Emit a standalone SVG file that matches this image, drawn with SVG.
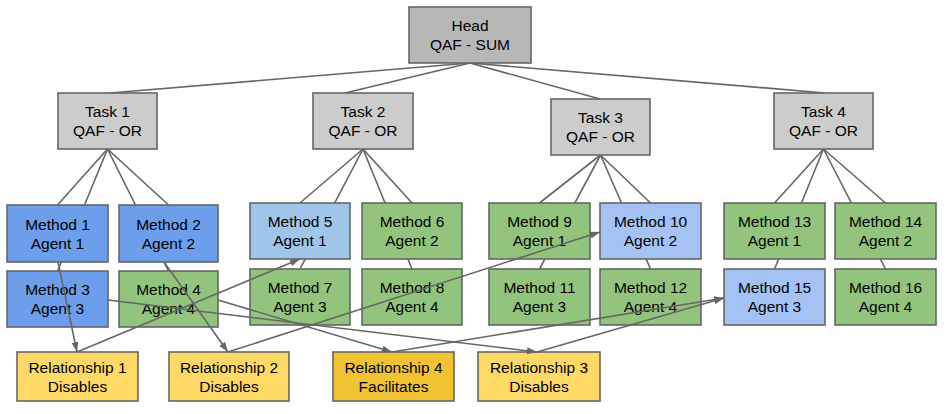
<svg xmlns="http://www.w3.org/2000/svg" width="946" height="414" viewBox="0 0 946 414">
<style>
.box{stroke:#666666;stroke-width:1.6}
.head{fill:#b7b7b7}
.task{fill:#cccccc}
.blue{fill:#6d9eeb}
.lblue{fill:#9fc5e8}
.pblue{fill:#a4c2f4}
.green{fill:#93c47d}
.yel{fill:#ffd966}
.dyel{fill:#f1c232}
text{font-family:"Liberation Sans",Arial,sans-serif;font-size:15.5px;fill:#000;text-anchor:middle}
.tree line{stroke:#666666;stroke-width:1.6}
.rel line{stroke:#666666;stroke-width:1.6;marker-end:url(#ah)}
</style>
<defs>
<marker id="ah" markerUnits="userSpaceOnUse" markerWidth="11" markerHeight="8" refX="10" refY="4" orient="auto">
<path d="M0,0.5 L10,4 L0,7.5 z" fill="#666666"/>
</marker>
</defs>
<g id="tree-connectors" class="tree">
<line x1="470" y1="63" x2="110" y2="93"/>
<line x1="470" y1="63" x2="345" y2="93"/>
<line x1="470" y1="63" x2="600" y2="99"/>
<line x1="470" y1="63" x2="825" y2="93"/>
<line x1="107.5" y1="149" x2="57.5" y2="205"/>
<line x1="107.5" y1="149" x2="57.5" y2="271"/>
<line x1="107.5" y1="149" x2="168.5" y2="205"/>
<line x1="107.5" y1="149" x2="168.5" y2="271"/>
<line x1="363" y1="149" x2="300" y2="203"/>
<line x1="363" y1="149" x2="300" y2="269"/>
<line x1="363" y1="149" x2="412" y2="203"/>
<line x1="363" y1="149" x2="412" y2="269"/>
<line x1="600.5" y1="155" x2="539.5" y2="203"/>
<line x1="600.5" y1="155" x2="539.5" y2="269"/>
<line x1="600.5" y1="155" x2="650.5" y2="203"/>
<line x1="600.5" y1="155" x2="650.5" y2="269"/>
<line x1="823.5" y1="149" x2="774.5" y2="203"/>
<line x1="823.5" y1="149" x2="774.5" y2="269"/>
<line x1="823.5" y1="149" x2="885.5" y2="203"/>
<line x1="823.5" y1="149" x2="885.5" y2="269"/>
</g>
<g id="head"><rect class="box head" x="409" y="7" width="122" height="56"/><text x="470" y="31">Head</text><text x="470" y="50">QAF - SUM</text></g>
<g id="task1"><rect class="box task" x="58" y="93" width="99" height="56"/><text x="107.5" y="117">Task 1</text><text x="107.5" y="136">QAF - OR</text></g>
<g id="task2"><rect class="box task" x="313" y="93" width="100" height="56"/><text x="363" y="117">Task 2</text><text x="363" y="136">QAF - OR</text></g>
<g id="task3"><rect class="box task" x="551" y="99" width="99" height="56"/><text x="600.5" y="123">Task 3</text><text x="600.5" y="142">QAF - OR</text></g>
<g id="task4"><rect class="box task" x="774" y="93" width="99" height="56"/><text x="823.5" y="117">Task 4</text><text x="823.5" y="136">QAF - OR</text></g>
<g id="method1"><rect class="box blue" x="7" y="205" width="101" height="57"/><text x="57.5" y="229.5">Method 1</text><text x="57.5" y="248.5">Agent 1</text></g>
<g id="method2"><rect class="box blue" x="119" y="205" width="99" height="57"/><text x="168.5" y="229.5">Method 2</text><text x="168.5" y="248.5">Agent 2</text></g>
<g id="method3"><rect class="box blue" x="7" y="271" width="101" height="56"/><text x="57.5" y="295">Method 3</text><text x="57.5" y="314">Agent 3</text></g>
<g id="method4"><rect class="box green" x="119" y="271" width="99" height="56"/><text x="168.5" y="295">Method 4</text><text x="168.5" y="314">Agent 4</text></g>
<g id="method5"><rect class="box lblue" x="250" y="203" width="100" height="56"/><text x="300" y="227">Method 5</text><text x="300" y="246">Agent 1</text></g>
<g id="method6"><rect class="box green" x="362" y="203" width="100" height="56"/><text x="412" y="227">Method 6</text><text x="412" y="246">Agent 2</text></g>
<g id="method7"><rect class="box green" x="250" y="269" width="100" height="56"/><text x="300" y="293">Method 7</text><text x="300" y="312">Agent 3</text></g>
<g id="method8"><rect class="box green" x="362" y="269" width="100" height="56"/><text x="412" y="293">Method 8</text><text x="412" y="312">Agent 4</text></g>
<g id="method9"><rect class="box green" x="489" y="203" width="101" height="56"/><text x="539.5" y="227">Method 9</text><text x="539.5" y="246">Agent 1</text></g>
<g id="method10"><rect class="box pblue" x="600" y="203" width="101" height="56"/><text x="650.5" y="227">Method 10</text><text x="650.5" y="246">Agent 2</text></g>
<g id="method11"><rect class="box green" x="489" y="269" width="101" height="56"/><text x="539.5" y="293">Method 11</text><text x="539.5" y="312">Agent 3</text></g>
<g id="method12"><rect class="box green" x="600" y="269" width="101" height="56"/><text x="650.5" y="293">Method 12</text><text x="650.5" y="312">Agent 4</text></g>
<g id="method13"><rect class="box green" x="724" y="203" width="101" height="56"/><text x="774.5" y="227">Method 13</text><text x="774.5" y="246">Agent 1</text></g>
<g id="method14"><rect class="box green" x="835" y="203" width="101" height="56"/><text x="885.5" y="227">Method 14</text><text x="885.5" y="246">Agent 2</text></g>
<g id="method15"><rect class="box pblue" x="724" y="269" width="101" height="56"/><text x="774.5" y="293">Method 15</text><text x="774.5" y="312">Agent 3</text></g>
<g id="method16"><rect class="box green" x="835" y="269" width="101" height="56"/><text x="885.5" y="293">Method 16</text><text x="885.5" y="312">Agent 4</text></g>
<g id="rel1"><rect class="box yel" x="17" y="352" width="121" height="49"/><text x="77.5" y="372.5">Relationship 1</text><text x="77.5" y="391.5">Disables</text></g>
<g id="rel2"><rect class="box yel" x="169" y="352" width="120" height="49"/><text x="229" y="372.5">Relationship 2</text><text x="229" y="391.5">Disables</text></g>
<g id="rel4"><rect class="box dyel" x="333" y="352" width="121" height="49"/><text x="393.5" y="372.5">Relationship 4</text><text x="393.5" y="391.5">Facilitates</text></g>
<g id="rel3"><rect class="box yel" x="478" y="352" width="122" height="49"/><text x="539" y="372.5">Relationship 3</text><text x="539" y="391.5">Disables</text></g>
<g id="relationship-connectors" class="rel">
<line x1="58" y1="262" x2="77" y2="352"/>
<line x1="77" y1="352" x2="300" y2="259"/>
<line x1="164" y1="262" x2="228" y2="352"/>
<line x1="228" y1="352" x2="600" y2="232"/>
<line x1="108" y1="300" x2="537" y2="352"/>
<line x1="218" y1="300" x2="392" y2="352"/>
<line x1="392" y1="352" x2="724" y2="298"/>
<line x1="537" y1="352" x2="724" y2="298"/>
</g>
</svg>
